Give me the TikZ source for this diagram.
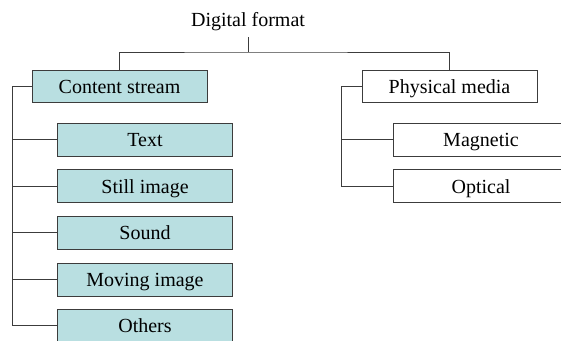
\documentclass[tikz,border=0pt]{standalone}
\usepackage{fontspec}
\setmainfont{Liberation Serif}
\definecolor{boxfill}{RGB}{185,223,225}
\definecolor{edge}{RGB}{60,60,60}
\begin{document}
\begin{tikzpicture}[x=1pt,y=-1pt,
  every node/.style={font=\fontsize{20}{24}\selectfont},
  catbox/.style={draw=edge,line width=0.9pt,rectangle,inner sep=0pt,minimum width=175pt,minimum height=32pt,text height=17.5pt,text depth=3pt},
  cyanbox/.style={catbox,fill=boxfill},
  whitebox/.style={catbox,fill=white},
  conn/.style={draw=edge,line width=0.9pt}]
\useasboundingbox (0,0) rectangle (561,340);
\node (root) at (248,22) {Digital format};
\coordinate (j) at (248,52);
\node[cyanbox] (cs) at (119.5,86) {Content stream};
\node[whitebox] (pm) at (449.5,86) {Physical media};
\node[cyanbox,minimum height=33pt] (txt) at (145,139.5) {Text};
\node[cyanbox,minimum height=33pt] (still) at (145,186) {Still image};
\node[cyanbox,minimum height=33pt] (sound) at (145,232.5) {Sound};
\node[cyanbox,minimum height=33pt] (moving) at (145,279.5) {Moving image};
\node[cyanbox,minimum height=33pt] (others) at (145,325.5) {Others};
\node[whitebox,minimum height=33pt] (mag) at (481,139.5) {Magnetic};
\node[whitebox,minimum height=33pt] (opt) at (481,186) {Optical};
\coordinate (sl) at (12,86);
\coordinate (sr) at (341,86);
\draw[conn] (root.south |- 0,37) -- (j);
\draw[conn] (cs.north) |- (j) -| (pm.north);
\draw[conn] (cs.west) -- (sl) |- (others.west);
\foreach \n in {txt,still,sound,moving}
  \draw[conn] (\n.west) -- (\n.west -| sl);
\draw[conn] (pm.west) -- (sr) |- (opt.west);
\draw[conn] (mag.west) -- (mag.west -| sr);
\end{tikzpicture}
\end{document}
